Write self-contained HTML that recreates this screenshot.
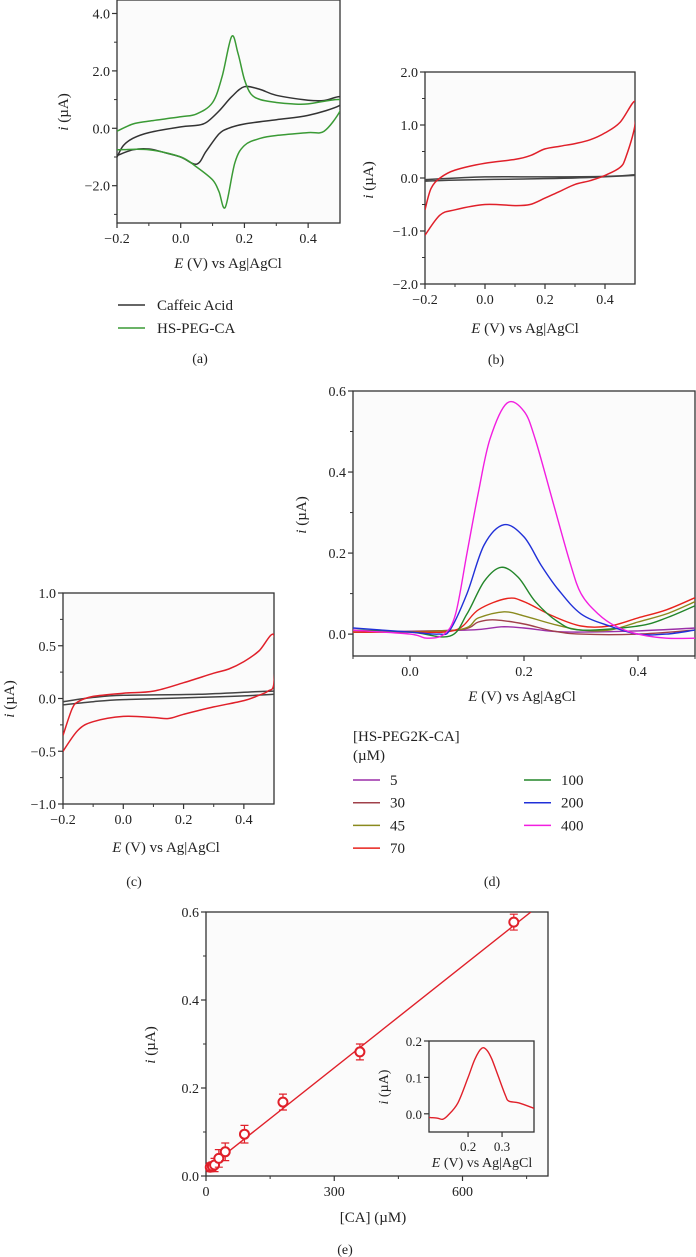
<!DOCTYPE html>
<html><head><meta charset="utf-8">
<style>
body{margin:0;background:#fff;}
svg{display:block;font-family:"Liberation Serif",serif;}
text{fill:#222;}
</style></head>
<body>
<svg id="fig" width="696" height="1257" viewBox="0 0 696 1257" xmlns="http://www.w3.org/2000/svg"></svg>
<script>
// ---------- data ----------
// Panel a
const aCaffeicX = [-0.2,-0.18,-0.15,-0.1,0,0.05,0.08,0.12,0.16,0.2,0.25,0.3,0.4,0.45,0.5,0.5,0.4,0.3,0.2,0.15,0.12,0.08,0.05,0,-0.05,-0.1,-0.15,-0.2];
const aCaffeicY = [-1.0,-0.6,-0.35,-0.15,0.05,0.1,0.2,0.6,1.1,1.45,1.35,1.15,0.98,0.97,1.1,0.8,0.45,0.3,0.15,0.0,-0.2,-0.8,-1.25,-1.0,-0.85,-0.72,-0.75,-0.95];
const aPegX = [-0.2,-0.15,-0.1,0,0.05,0.1,0.13,0.16,0.18,0.2,0.22,0.25,0.3,0.35,0.4,0.5,0.5,0.45,0.4,0.3,0.25,0.2,0.17,0.14,0.12,0.1,0.05,0,-0.1,-0.2];
const aPegY = [-0.1,0.15,0.25,0.4,0.5,0.9,1.8,3.2,2.6,1.7,1.2,1.0,0.9,0.85,0.85,1.0,0.6,-0.1,-0.15,-0.25,-0.35,-0.6,-1.2,-2.75,-2.2,-1.8,-1.35,-1.0,-0.75,-0.75];
// Panel b
const bRedX = [-0.2,-0.18,-0.15,-0.1,0,0.1,0.15,0.2,0.25,0.3,0.35,0.4,0.45,0.5,0.5,0.47,0.45,0.4,0.35,0.3,0.25,0.2,0.15,0.1,0,-0.1,-0.15,-0.2];
const bRedY = [-0.6,-0.2,0.0,0.15,0.28,0.35,0.42,0.55,0.6,0.65,0.72,0.85,1.05,1.45,1.0,0.4,0.2,0.05,-0.05,-0.12,-0.25,-0.38,-0.5,-0.52,-0.5,-0.6,-0.7,-1.08];
const bBlackX = [-0.2,0,0.2,0.4,0.5,0.5,0.3,0.1,-0.1,-0.2];
const bBlackY = [-0.03,0.02,0.02,0.03,0.06,0.05,0.0,-0.02,-0.04,-0.06];
// Panel c
const cRedX = [-0.2,-0.17,-0.15,-0.1,0,0.1,0.2,0.3,0.35,0.4,0.45,0.5,0.5,0.48,0.45,0.4,0.3,0.2,0.15,0.1,0,-0.1,-0.15,-0.2];
const cRedY = [-0.35,-0.1,-0.03,0.02,0.05,0.07,0.15,0.24,0.28,0.35,0.45,0.6,0.15,0.07,0.03,-0.02,-0.08,-0.15,-0.19,-0.18,-0.17,-0.22,-0.3,-0.5];
const cBlackX = [-0.2,-0.1,0,0.25,0.5,0.5,0.25,0,-0.1,-0.2];
const cBlackY = [-0.03,0.01,0.03,0.04,0.07,0.04,0.01,-0.01,-0.03,-0.06];
// Panel d (DPV)
const dConc = ["5","30","45","70","100","200","400"];
const dColors = ["#9b2fa8","#a0404a","#8a8a1e","#e8231c","#23862a","#2030d8","#f21ee0"];
const d5X = [-0.1,0.1,0.16,0.2,0.25,0.3,0.4,0.5];
const d5Y = [0.005,0.01,0.018,0.015,0.007,0.005,0.008,0.015];
const d30X = [-0.1,0.08,0.12,0.15,0.2,0.25,0.3,0.4,0.5];
const d30Y = [0.005,0.01,0.03,0.035,0.025,0.008,0.0,0.0,0.01];
const d45X = [-0.1,0.08,0.12,0.165,0.2,0.25,0.3,0.35,0.4,0.45,0.5];
const d45Y = [0.005,0.01,0.04,0.055,0.045,0.025,0.01,0.01,0.03,0.05,0.08];
const d70X = [-0.1,0,0.08,0.12,0.17,0.2,0.25,0.3,0.35,0.4,0.45,0.5];
const d70Y = [0.005,0.005,0.01,0.06,0.088,0.08,0.045,0.02,0.02,0.04,0.06,0.09];
const d100X = [-0.1,0,0.07,0.1,0.13,0.16,0.19,0.22,0.26,0.3,0.4,0.45,0.5];
const d100Y = [0.01,0.005,-0.005,0.05,0.13,0.165,0.14,0.08,0.03,0.01,0.02,0.04,0.07];
const d200X = [-0.1,0,0.05,0.07,0.1,0.13,0.165,0.2,0.23,0.26,0.3,0.35,0.4,0.45,0.5];
const d200Y = [0.015,0.005,0.0,0.01,0.1,0.22,0.27,0.24,0.17,0.11,0.05,0.02,0.0,0.0,0.01];
const d400X = [-0.1,0,0.03,0.06,0.08,0.1,0.12,0.14,0.17,0.2,0.22,0.25,0.28,0.3,0.33,0.36,0.4,0.45,0.5];
const d400Y = [0.01,0.0,-0.01,0.0,0.05,0.2,0.35,0.48,0.57,0.55,0.48,0.33,0.18,0.1,0.05,0.02,0.0,-0.01,-0.01];
// Panel e
const eConc = [10,15,20,30,45,90,180,360,720];
const eCurrent = [0.02,0.022,0.025,0.04,0.055,0.095,0.168,0.282,0.577];
const eError = [0.01,0.01,0.015,0.02,0.02,0.02,0.018,0.018,0.018];
const eFitX = [0,760];
const eFitY = [0.015,0.6];
const insetX = [0.085,0.11,0.125,0.14,0.17,0.2,0.22,0.24,0.255,0.27,0.29,0.31,0.32,0.35,0.394];
const insetY = [-0.01,-0.012,-0.015,-0.005,0.03,0.1,0.15,0.18,0.175,0.15,0.1,0.05,0.035,0.03,0.015];

// ---------- helpers ----------
const NS="http://www.w3.org/2000/svg";
const svg=document.getElementById('fig');
function mk(tag,attrs,parent){const e=document.createElementNS(NS,tag);for(const k in attrs)e.setAttribute(k,attrs[k]);(parent||svg).appendChild(e);return e;}
function txt(s,x,y,anchor,size,parent,italicPrefix){
  const t=mk('text',{x:x,y:y,'text-anchor':anchor||'middle','font-size':size||14},parent);
  if(italicPrefix){const ts=mk('tspan',{'font-style':'italic'},t);ts.textContent=italicPrefix;const r=mk('tspan',{},t);r.textContent=s;}
  else t.textContent=s;
  return t;
}
function smoothPath(pts){
  let d='M'+pts[0][0].toFixed(1)+','+pts[0][1].toFixed(1);
  for(let i=0;i<pts.length-1;i++){
    const p0=pts[i-1]||pts[i],p1=pts[i],p2=pts[i+1],p3=pts[i+2]||p2;
    const c1=[p1[0]+(p2[0]-p0[0])/6,p1[1]+(p2[1]-p0[1])/6];
    const c2=[p2[0]-(p3[0]-p1[0])/6,p2[1]-(p3[1]-p1[1])/6];
    d+=' C'+c1[0].toFixed(1)+','+c1[1].toFixed(1)+' '+c2[0].toFixed(1)+','+c2[1].toFixed(1)+' '+p2[0].toFixed(1)+','+p2[1].toFixed(1);
  }
  return d;
}
function axes(cfg){
  const g=mk('g',{});
  
  
  const sx=v=>cfg.x0+(v-cfg.xmin)/(cfg.xmax-cfg.xmin)*(cfg.x1-cfg.x0);
  const sy=v=>cfg.y1-(v-cfg.ymin)/(cfg.ymax-cfg.ymin)*(cfg.y1-cfg.y0);
  const bg=mk('rect',{x:cfg.x0,y:cfg.y0,width:cfg.x1-cfg.x0,height:cfg.y1-cfg.y0,fill:'#fbfbfb',stroke:'#333','stroke-width':1.3},g);
  
  
  const fs=cfg.fs||14;
  (cfg.xticks||[]).forEach((v,i)=>{const x=sx(v);mk('line',{x1:x,x2:x,y1:cfg.y1,y2:cfg.y1+5,stroke:'#333','stroke-width':1.2},g);
    const t=txt(cfg.xlabels[i],x,cfg.y1+fs+6,'middle',fs,g);});
  (cfg.xminor||[]).forEach(v=>{const x=sx(v);mk('line',{x1:x,x2:x,y1:cfg.y1,y2:cfg.y1+3,stroke:'#333','stroke-width':1},g);});
  (cfg.yticks||[]).forEach((v,i)=>{const y=sy(v);mk('line',{x1:cfg.x0-5,x2:cfg.x0,y1:y,y2:y,stroke:'#333','stroke-width':1.2},g);
    const t=txt(cfg.ylabels[i],cfg.x0-7,y+5,'end',fs,g);});
  (cfg.yminor||[]).forEach(v=>{const y=sy(v);mk('line',{x1:cfg.x0-3,x2:cfg.x0,y1:y,y2:y,stroke:'#333','stroke-width':1},g);});
  const cp=mk('clipPath',{id:cfg.name+'-clip'},g);mk('rect',{x:cfg.x0,y:cfg.y0,width:cfg.x1-cfg.x0,height:cfg.y1-cfg.y0},cp);
  const plot=mk('g',{'clip-path':'url(#'+cfg.name+'-clip)'},g);
  return {g,sx,sy,plot};
}
function curve(ax,xs,ys,color,name,w){
  const pts=xs.map((x,i)=>[ax.sx(x),ax.sy(ys[i])]);
  const p=mk('path',{d:smoothPath(pts),fill:'none',stroke:color,'stroke-width':w||1.5},ax.plot);
  
  
  return p;
}
function label(s,x,y,name,size,italic,rot){
  const t=txt(s,x,y,'middle',size||15,svg,italic);
  if(rot)t.setAttribute('transform','rotate(-90 '+x+' '+y+')');
  
  
  return t;
}
const EV=" (V) vs Ag|AgCl";

// ---------- panel a ----------
const A=axes({name:'panel-a',x0:117,x1:340,y0:0,y1:223,xmin:-0.2,xmax:0.5,ymin:-3.3,ymax:4.47,
  xticks:[-0.2,0,0.2,0.4],xlabels:['\u22120.2','0.0','0.2','0.4'],xminor:[-0.1,0.1,0.3],
  yticks:[4,2,0,-2],ylabels:['4.0','2.0','0.0','\u22122.0'],yminor:[3,1,-1,-3]});
curve(A,aCaffeicX,aCaffeicY,'#333','caffeic-acid-cv');
curve(A,aPegX,aPegY,'#3a9a35','hs-peg-ca-cv');
label(EV,228,268,'x-axis-title-a',15,'E');
label(' (\u00b5A)',68,112,'y-axis-title-a',15,'i',true);
[['Caffeic Acid','#333',305],['HS-PEG-CA','#3a9a35',328]].forEach(l=>{
  const ln=mk('line',{x1:118,x2:145,y1:l[2],y2:l[2],stroke:l[1],'stroke-width':1.5});
  
  const t=txt(l[0],157,l[2]+5,'start',15);});
label('(a)',200,363,'panel-label-a',14);

// ---------- panel b ----------
const B=axes({name:'panel-b',x0:425,x1:635,y0:72,y1:284,xmin:-0.2,xmax:0.5,ymin:-2,ymax:2,
  xticks:[-0.2,0,0.2,0.4],xlabels:['\u22120.2','0.0','0.2','0.4'],xminor:[-0.1,0.1,0.3],
  yticks:[2,1,0,-1,-2],ylabels:['2.0','1.0','0.0','\u22121.0','\u22122.0'],yminor:[1.5,0.5,-0.5,-1.5]});
curve(B,bBlackX,bBlackY,'#444','control-cv');
curve(B,bRedX,bRedY,'#e0202a','hs-peg-ca-cv-b');
label(EV,525,333,'x-axis-title-b',15,'E');
label(' (\u00b5A)',373,180,'y-axis-title-b',15,'i',true);
label('(b)',496,364,'panel-label-b',14);

// ---------- panel c ----------
const C=axes({name:'panel-c',x0:63,x1:274,y0:593,y1:804,xmin:-0.2,xmax:0.5,ymin:-1,ymax:1,
  xticks:[-0.2,0,0.2,0.4],xlabels:['\u22120.2','0.0','0.2','0.4'],xminor:[-0.1,0.1,0.3],
  yticks:[1,0.5,0,-0.5,-1],ylabels:['1.0','0.5','0.0','\u22120.5','\u22121.0'],yminor:[0.75,0.25,-0.25,-0.75]});
curve(C,cBlackX,cBlackY,'#444','control-cv-c');
curve(C,cRedX,cRedY,'#e0202a','hs-peg-ca-cv-c');
label(EV,166,852,'x-axis-title-c',15,'E');
label(' (\u00b5A)',14,699,'y-axis-title-c',15,'i',true);
label('(c)',134,886,'panel-label-c',14);

// ---------- panel d ----------
const D=axes({name:'panel-d',x0:353,x1:695,y0:391,y1:656,xmin:-0.1,xmax:0.5,ymin:-0.054,ymax:0.6,
  xticks:[0,0.2,0.4],xlabels:['0.0','0.2','0.4'],xminor:[-0.1,0.1,0.3,0.5],
  yticks:[0.6,0.4,0.2,0],ylabels:['0.6','0.4','0.2','0.0'],yminor:[0.5,0.3,0.1]});
const dXs=[d5X,d30X,d45X,d70X,d100X,d200X,d400X];
const dYs=[d5Y,d30Y,d45Y,d70Y,d100Y,d200Y,d400Y];
dConc.forEach((c,i)=>curve(D,dXs[i],dYs[i],dColors[i],'dpv-'+c+'uM',1.4));
label(EV,522,701,'x-axis-title-d',15,'E');
label(' (\u00b5A)',306,515,'y-axis-title-d',15,'i',true);
let t=txt('[HS-PEG2K-CA]',353,741,'start',15);
t=txt('(\u00b5M)',353,760,'start',15);
dConc.forEach((c,i)=>{
  const col=i<4?0:1,row=i<4?i:i-4;
  const lx=col?524:353,ly=780+row*22.7;
  const ln=mk('line',{x1:lx,x2:lx+27,y1:ly,y2:ly,stroke:dColors[i],'stroke-width':1.5});
  
  const tt=txt(c,lx+37,ly+5,'start',15);
});
label('(d)',492,886,'panel-label-d',14);

// ---------- panel e ----------
const E=axes({name:'panel-e',x0:206,x1:548,y0:912,y1:1176,xmin:0,xmax:800,ymin:0,ymax:0.6,
  xticks:[0,300,600],xlabels:['0','300','600'],xminor:[150,450,750],
  yticks:[0.6,0.4,0.2,0],ylabels:['0.6','0.4','0.2','0.0'],yminor:[0.5,0.3,0.1]});
const fit=mk('line',{x1:E.sx(eFitX[0]),y1:E.sy(eFitY[0]),x2:E.sx(eFitX[1]),y2:E.sy(eFitY[1]),stroke:'#e0202a','stroke-width':1.4},E.plot);

eConc.forEach((c,i)=>{
  const x=E.sx(c),y=E.sy(eCurrent[i]),ya=E.sy(eCurrent[i]+eError[i]),yb=E.sy(eCurrent[i]-eError[i]);
  const eb=mk('path',{d:`M${x},${ya}V${yb}M${x-4},${ya}H${x+4}M${x-4},${yb}H${x+4}`,stroke:'#e0202a','stroke-width':1.2,fill:'none'},E.g);
  
  const pt=mk('circle',{cx:x,cy:y,r:4.5,fill:'#fff',stroke:'#e0202a','stroke-width':2},E.g);
  
});
label('[CA] (\u00b5M)',373,1222,'x-axis-title-e',15);
label(' (\u00b5A)',155,1045,'y-axis-title-e',15,'i',true);
label('(e)',345,1254,'panel-label-e',14);
// inset
const I=axes({name:'inset',x0:429,x1:534,y0:1041,y1:1132,xmin:0.085,xmax:0.394,ymin:-0.05,ymax:0.2,fs:13,
  xticks:[0.2,0.3],xlabels:['0.2','0.3'],xminor:[],
  yticks:[0.2,0.1,0],ylabels:['0.2','0.1','0.0'],yminor:[]});
curve(I,insetX,insetY,'#e0202a','inset-dpv',1.4);
label(EV,482,1167,'inset-x-axis-title',14,'E');
label(' (\u00b5A)',388,1087,'inset-y-axis-title',14,'i',true);
</script>
</body></html>
